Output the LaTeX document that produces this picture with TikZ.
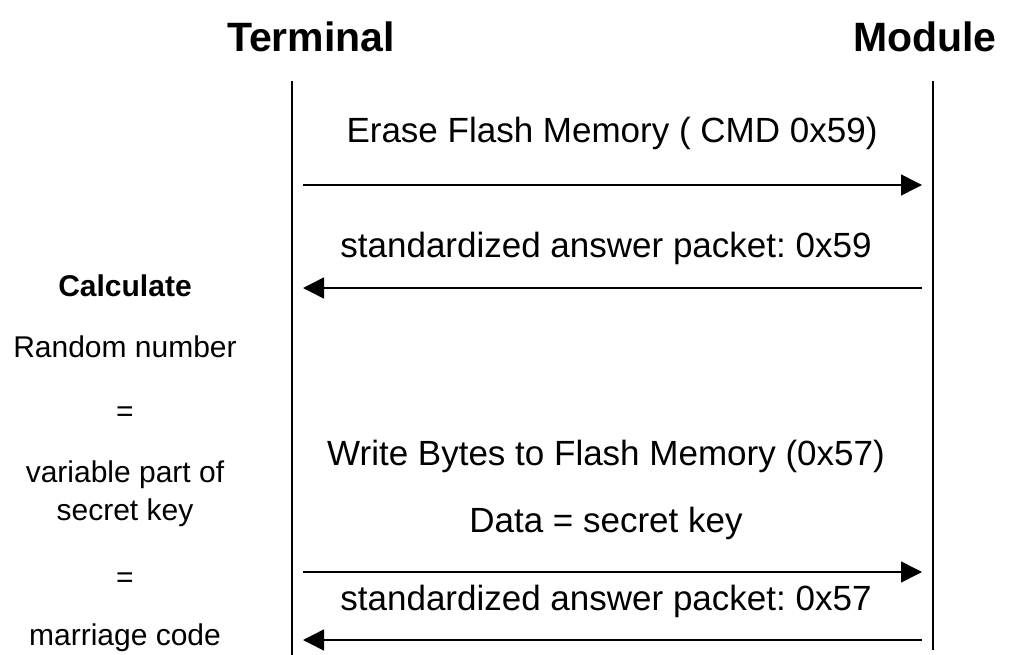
\documentclass[tikz,border=0pt]{standalone}
\usepackage{fontspec}
\setmainfont{Liberation Sans}
\usepackage{tikz}
\usetikzlibrary{positioning, arrows.meta}
\frenchspacing

\begin{document}
\begin{tikzpicture}[
    x=1pt, y=-1pt,
    head/.style={font=\fontsize{41}{49}\selectfont\bfseries, anchor=base, inner sep=0pt},
    msg/.style={font=\fontsize{35}{42}\selectfont, anchor=base, inner sep=0pt},
    note/.style={font=\fontsize{30}{36}\selectfont, anchor=base, inner sep=0pt},
    lifeline/.style={line width=1.5pt},
    arrow/.style={-{Triangle[length=21pt, width=21pt]}, line width=1.5pt,
                  shorten <=11pt, shorten >=11pt}
]
    \useasboundingbox (0,0) rectangle (1009,655);

    % Headings
    \node[head] (terminal) at (311,52) {Terminal};
    \node[head] (module) at (925,52) {Module};

    % Lifelines
    \coordinate (term-top) at (292,81);
    \coordinate (term-bot) at (292,655);
    \coordinate (mod-top) at (933,81);
    \coordinate (mod-bot) at (933,650);
    \draw[lifeline] (term-top) -- (term-bot);
    \draw[lifeline] (mod-top) -- (mod-bot);

    % Erase flash
    \node[msg] (erase) at (612,143) {Erase Flash Memory ( CMD 0x59)};
    \coordinate (term-a) at (292,185);
    \coordinate (mod-a) at (933,185);
    \draw[arrow] (term-a) -- (mod-a);

    \node[msg] (answer1) at (606,257) {standardized answer packet: 0x59};
    \coordinate (term-b) at (292,288);
    \coordinate (mod-b) at (933,288);
    \draw[arrow] (mod-b) -- (term-b);

    % Write secret key
    \node[msg] (write) at (606,465) {Write Bytes to Flash Memory (0x57)};
    \node[msg] (data) at (606,532) {Data = secret key};
    \coordinate (term-c) at (292,572);
    \coordinate (mod-c) at (933,572);
    \draw[arrow] (term-c) -- (mod-c);

    \node[msg] (answer2) at (606,610) {standardized answer packet: 0x57};
    \coordinate (term-d) at (292,640);
    \coordinate (mod-d) at (933,640);
    \draw[arrow] (mod-d) -- (term-d);

    % Terminal side calculation
    \node[note, font=\fontsize{30}{36}\selectfont\bfseries] (calc) at (125,296) {Calculate};
    \node[note] (random) at (125,357) {Random number};
    \node[note] (eq1) at (125,421) {=};
    \node[note] (varpart) at (125,482) {variable part of};
    \node[note] (secret) at (125,520) {secret key};
    \node[note] (eq2) at (125,587) {=};
    \node[note] (marriage) at (125,645) {marriage code};
\end{tikzpicture}
\end{document}
